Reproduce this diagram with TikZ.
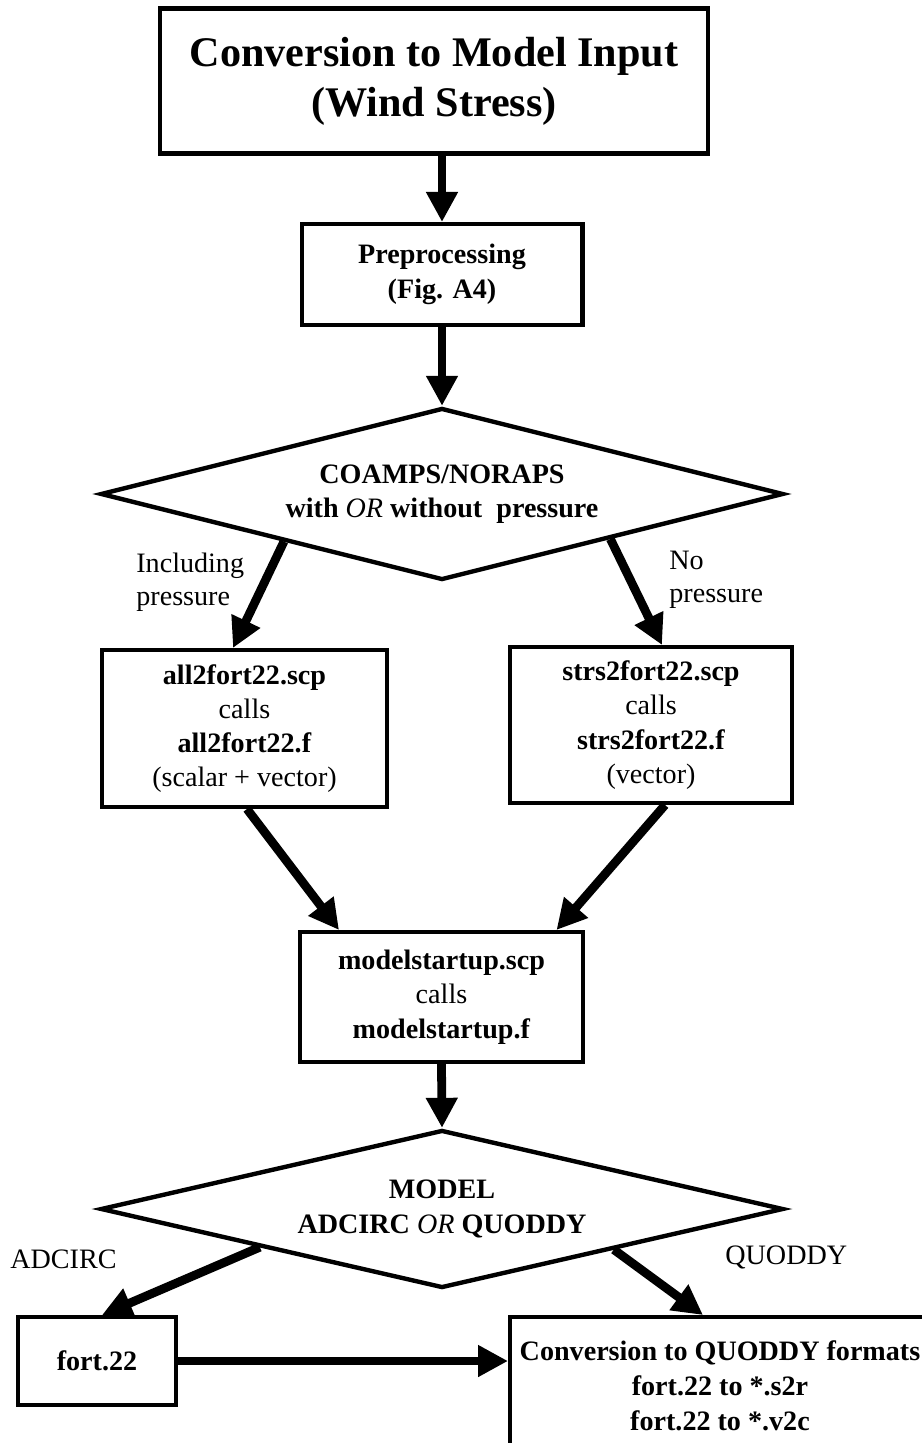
\documentclass[tikz,border=0pt]{standalone}
\usepackage{fontspec}
\setmainfont{Liberation Serif}
\usetikzlibrary{arrows.meta,shapes.geometric,calc}
\tikzset{
  titlebox/.style  ={draw, line width=2.3pt, inner sep=0pt,
                     minimum width=10.96cm, minimum height=2.9cm,
                     align=center, font=\fontsize{24}{28.5}\selectfont\bfseries},
  stepbox/.style   ={draw, line width=2.3pt, inner sep=0pt,
                     align=center, font=\fontsize{16}{19.5}\selectfont},
  decision/.style  ={draw, shape=diamond, aspect=4, line width=2.5pt, inner sep=0pt,
                     minimum width=13.66cm,
                     align=center, font=\fontsize{16}{19.5}\selectfont},
  branchlabel/.style={anchor=west, align=left, inner sep=0pt,
                     font=\fontsize{16}{19}\selectfont},
  flowarr/.style   ={-{Triangle[length=0.6cm,width=0.6cm]}, line width=5pt},
}

\begin{document}
\begin{tikzpicture}[x=0.02cm, y=-0.02cm]
    \useasboundingbox (0,0) rectangle (922,1443);
    \clip (0,0) rectangle (922,1443);

    \node[titlebox] (title) at (434,81) {Conversion to Model Input\\(Wind Stress)};
    \node[stepbox, font=\fontsize{16}{20}\selectfont\bfseries,
          minimum width=5.62cm, minimum height=2.02cm] (prep) at (442,274.5)
      {Preprocessing\\(Fig. A4)};

    \node[decision, minimum height=3.44cm] (coamps) at (442,494)
      {\textbf{COAMPS/NORAPS}\\\textbf{with} \textit{OR} \textbf{without}\hspace{0.5em}\textbf{pressure}};

    \node[stepbox, minimum width=5.7cm, minimum height=3.14cm] (allscp) at (244.5,728.5)
      {\textbf{all2fort22.scp}\\calls\\\textbf{all2fort22.f}\\(scalar + vector)};
    \node[stepbox, minimum width=5.64cm, minimum height=3.12cm] (strsscp) at (651,725)
      {\textbf{strs2fort22.scp}\\calls\\\textbf{strs2fort22.f}\\(vector)};

    \node[stepbox, minimum width=5.66cm, minimum height=2.6cm] (startup) at (441.5,997)
      {\textbf{modelstartup.scp}\\calls\\\textbf{modelstartup.f}};

    \node[decision, minimum height=3.16cm] (model) at (442,1209)
      {\textbf{MODEL}\\\textbf{ADCIRC} \textit{OR} \textbf{QUODDY}};

    \node[stepbox, minimum width=3.16cm, minimum height=1.76cm] (fort) at (97,1361)
      {\textbf{fort.22}};
    \node[stepbox, font=\fontsize{16}{20}\selectfont\bfseries,
          minimum width=8.4cm, minimum height=2.76cm] (quoddy) at (720,1386)
      {Conversion to QUODDY formats\\fort.22 to *.s2r\\fort.22 to *.v2c};

    % branch labels
    \node[branchlabel] (inclab) at (136,582) {Including\\pressure};
    \node[branchlabel] (nolab)  at (669,580) {No\\pressure};
    \node[branchlabel] (adclab) at (10,1259) {ADCIRC};
    \node[branchlabel] (quolab) at (725,1257) {QUODDY};

    \draw[flowarr] (title.south -| prep.north) -- (prep.north);
    \draw[flowarr] (prep.south) -- (coamps.north);
    \draw[flowarr] ($(coamps.west)!0.54!(coamps.south)$) -- ([xshift=-0.23cm]allscp.north);
    \draw[flowarr] ($(coamps.south)!0.49!(coamps.east)$) -- ([xshift=0.22cm]strsscp.north);
    \draw[flowarr] ([xshift=0.05cm]allscp.south) -- ([xshift=-2.05cm]startup.north);
    \draw[flowarr] ([xshift=0.28cm]strsscp.south) -- ([xshift=2.3cm]startup.north);
    \draw[flowarr] (startup.south) -- (model.north);
    \draw[flowarr] ($(model.west)!0.47!(model.south)$) -- ([xshift=0.1cm]fort.north);
    \draw[flowarr] ($(model.south)!0.5!(model.east)$) -- ([xshift=-0.34cm]quoddy.north);
    \draw[flowarr] (fort.east) -- (fort.east -| quoddy.west);
  \end{tikzpicture}
\end{document}
